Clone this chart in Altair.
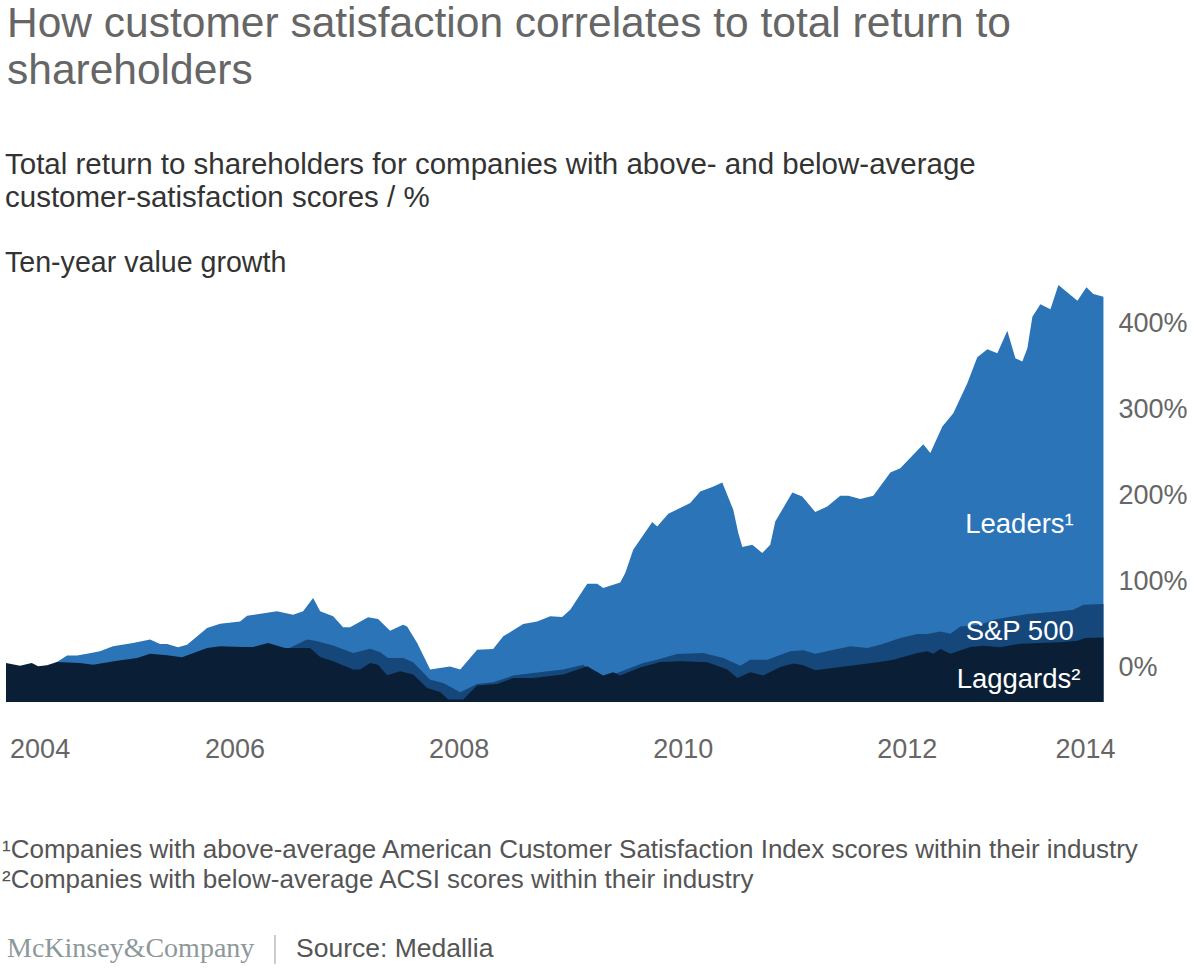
import altair as alt
import pandas as pd

FONT = "Liberation Sans"

# ---- data (year, % total return) ----
lead_year = [2003.96, 2004.2, 2004.33, 2004.415, 2004.505, 2004.594, 2004.683, 2004.799, 2004.915, 2005.094,
             2005.246, 2005.335, 2005.398, 2005.496, 2005.576, 2005.755, 2005.871, 2006.049, 2006.112, 2006.379,
             2006.522, 2006.612, 2006.701, 2006.764, 2006.88, 2006.969, 2007.031, 2007.192, 2007.281, 2007.388,
             2007.504, 2007.54, 2007.63, 2007.746, 2007.862, 2007.924, 2008.014, 2008.165, 2008.308, 2008.398,
             2008.576, 2008.701, 2008.817, 2008.924, 2008.996, 2009.148, 2009.237, 2009.29, 2009.442, 2009.487,
             2009.558, 2009.728, 2009.772, 2009.871, 2010.067, 2010.156, 2010.264, 2010.353, 2010.451, 2010.496,
             2010.532, 2010.621, 2010.71, 2010.781, 2010.826, 2010.978, 2011.067, 2011.183, 2011.29, 2011.406,
             2011.478, 2011.585, 2011.701, 2011.853, 2011.942, 2012.147, 2012.21, 2012.317, 2012.415, 2012.54,
             2012.629, 2012.719, 2012.808, 2012.897, 2012.969, 2013.031, 2013.076, 2013.121, 2013.192, 2013.282,
             2013.353, 2013.523, 2013.603, 2013.665, 2013.755]
lead_val = [1, 1, 0, 6.6, 14.0, 14.0, 16.3, 19.0, 24.8, 28.7,
            32.6, 27.6, 27.6, 23.6, 26.7, 46.2, 51.2, 53.8, 60.5, 65.5,
            61.6, 65.5, 81.0, 65.5, 59.7, 46.9, 46.9, 58.5, 56.6, 43.0,
            50.0, 48.0, 28.7, -2.3, 0.3, 1.2, -2.3, 20.9, 21.7, 36.4,
            50.8, 53.8, 59.7, 59.0, 67.4, 97.7, 97.7, 92.7, 99.2, 110.1,
            137.2, 169.4, 164.3, 179.1, 191.5, 205.0, 210.1, 215.5, 183.7, 156.6,
            140.3, 143.0, 133.4, 143.0, 170.1, 203.8, 199.2, 181.0, 187.6, 200.0,
            200.0, 196.2, 200.0, 227.1, 232.2, 260.1, 249.7, 280.6, 296.2, 331.0,
            361.3, 370.6, 365.9, 392.2, 360.1, 356.2, 371.7, 408.5, 422.9, 417.1,
            445.3, 427.1, 442.7, 434.9, 431.7]

sp_year = [2003.96, 2004.25, 2004.74, 2005.13, 2005.53, 2005.87, 2006.3, 2006.45, 2006.495, 2006.647,
           2006.719, 2006.88, 2007.058, 2007.21, 2007.30, 2007.37, 2007.505, 2007.594, 2007.746, 2007.862,
           2008.014, 2008.165, 2008.308, 2008.487, 2008.665, 2008.933, 2009.112, 2009.25, 2009.415, 2009.647,
           2009.772, 2009.95, 2010.183, 2010.362, 2010.514, 2010.603, 2010.755, 2010.96, 2011.076, 2011.183,
           2011.496, 2011.648, 2011.764, 2011.942, 2012.094, 2012.183, 2012.3, 2012.389, 2012.478, 2012.657,
           2012.773, 2013.076, 2013.371, 2013.487, 2013.576, 2013.755]
sp_val = [0, -2, 0, 6, 8, 18, 22, 20, 23, 32.6,
          31.4, 25.9, 17.1, 22.1, 17.8, 11.3, 11.3, 6.2, -14.0, -17.8,
          -28.7, -19.0, -17.1, -9.3, -6.2, -2.3, 3.5, -12, -6.2, 5.5,
          9.3, 15.9, 17.1, 11.3, 2.3, 9.3, 9.3, 19.0, 20.1, 16.3,
          24.8, 22.9, 26.7, 34.5, 39.2, 39.0, 42.2, 39.5, 48.0, 50.0,
          55.8, 62.4, 65.5, 67.4, 73.3, 74.1]

lag_year = [2003.96, 2004.085, 2004.19, 2004.246, 2004.326, 2004.415, 2004.62, 2004.737, 2004.951, 2005.13,
            2005.246, 2005.398, 2005.531, 2005.755, 2005.871, 2006.076, 2006.165, 2006.299, 2006.451, 2006.674,
            2006.764, 2006.88, 2007.058, 2007.12, 2007.21, 2007.28, 2007.362, 2007.478, 2007.594, 2007.719,
            2007.835, 2007.906, 2008.04, 2008.165, 2008.344, 2008.487, 2008.665, 2008.933, 2009.148, 2009.29,
            2009.38, 2009.442, 2009.62, 2009.799, 2009.978, 2010.219, 2010.397, 2010.487, 2010.603, 2010.719,
            2010.871, 2010.987, 2011.076, 2011.183, 2011.496, 2011.737, 2011.88, 2012.094, 2012.183, 2012.237,
            2012.3, 2012.389, 2012.567, 2012.683, 2012.835, 2013.014, 2013.371, 2013.523, 2013.594, 2013.755]
lag_val = [5.5, 2.3, 5.5, 1.5, 2.7, 6.6, 5.5, 3.5, 8.1, 11.3,
           16.3, 14.3, 12.0, 22.9, 24.8, 24.1, 24.1, 28.7, 22.9, 22.9,
           12.4, 7.3, -2.3, -2.3, 5.5, 3.5, -9.0, -4.3, -8.1, -23.6,
           -28.3, -37.2, -37.2, -20.9, -19.0, -12.0, -12.0, -8.1, 1.5, -9.3,
           -5.5, -9.3, 0.3, 6.6, 7.3, 6.2, -2.3, -12.0, -5.5, -9.3,
           0.8, 4.7, 2.7, -3.1, 2.3, 6.2, 9.3, 17.1, 19.0, 16.3,
           21.7, 16.3, 24.1, 25.6, 23.6, 27.9, 29.4, 31.4, 34.5, 35.2]

series_names = ["Leaders", "S&P 500", "Laggards"]
series_colors = ["#2c74b8", "#15477a", "#0a1f36"]

label_text = ["Leaders\u00b9", "S&P 500", "Laggards\u00b2"]
label_year = [2013.49, 2013.49, 2013.55]
label_val = [157, 32.6, -23.3]

x_tick_pos = [2004.26, 2006, 2008, 2010, 2012, 2013.59]
y_ticks = [0, 100, 200, 300, 400]

# ---- frames ----
df = pd.concat([
    pd.DataFrame({"year": lead_year, "value": lead_val, "series": series_names[0]}),
    pd.DataFrame({"year": sp_year, "value": sp_val, "series": series_names[1]}),
    pd.DataFrame({"year": lag_year, "value": lag_val, "series": series_names[2]}),
])
labels_df = pd.DataFrame({"t": label_text, "year": label_year, "value": label_val})

W, H = 1098, 421
x_scale = alt.Scale(domain=[2003.96, 2013.76], nice=False, zero=False)
y_scale = alt.Scale(domain=[-40, 450], nice=False, zero=False)

x_enc = alt.X("year:Q", scale=x_scale, title=None,
              axis=alt.Axis(values=x_tick_pos, labelExpr="format(round(datum.value), 'd')",
                            domain=False, ticks=False, grid=False, labelFlush=False,
                            labelFont=FONT, labelFontSize=27, labelColor="#666666",
                            labelPadding=34, labelBaseline="top"))
y_enc = alt.Y("value:Q", scale=y_scale, title=None,
              axis=alt.Axis(orient="right", values=y_ticks, labelExpr="datum.value + '%'",
                            domain=False, ticks=False, grid=False,
                            labelFont=FONT, labelFontSize=27, labelColor="#666666",
                            labelPadding=14, labelBaseline="middle", labelAlign="left"))

base = alt.Chart(df).mark_area(interpolate="linear").encode(
    x=x_enc, y=y_enc, y2=alt.datum(-40),
    color=alt.Color("series:N", scale=alt.Scale(domain=series_names, range=series_colors), legend=None),
)
areas = [base.transform_filter(alt.datum.series == s) for s in series_names]

series_labels = alt.Chart(labels_df).mark_text(
    align="right", baseline="alphabetic", font=FONT, fontSize=27.5, color="white"
).encode(x=alt.X("year:Q", scale=x_scale), y=alt.Y("value:Q", scale=y_scale), text="t:N")

TOP = 281
LEFT = 6


def note(text, x, y, size, color, font=FONT):
    return alt.Chart(alt.Data(values=[{}])).mark_text(
        text=text, align="left", baseline="alphabetic", fontSize=size, color=color, font=font
    ).encode(x=alt.value(x - LEFT), y=alt.value(y - TOP))


texts = [
    note("How customer satisfaction correlates to total return to", 7, 37, 42.5, "#666666"),
    note("shareholders", 7, 84, 42.5, "#666666"),
    note("Total return to shareholders for companies with above- and below-average", 5, 174, 29.5, "#333333"),
    note("customer-satisfaction scores / %", 5, 207, 29.5, "#333333"),
    note("Ten-year value growth", 5, 272, 28.6, "#333333"),
    note("\u00b9Companies with above-average American Customer Satisfaction Index scores within their industry", 2, 858, 26, "#555555"),
    note("\u00b2Companies with below-average ACSI scores within their industry", 2, 888, 26, "#555555"),
    note("McKinsey&Company", 7, 957, 28, "#8c9899", font="Liberation Serif"),
    note("Source: Medallia", 296, 957, 26.5, "#555555"),
]
sep = alt.Chart(alt.Data(values=[{}])).mark_rule(color="#9a9a9a", strokeWidth=1).encode(
    x=alt.value(275 - LEFT), y=alt.value(935 - TOP), y2=alt.value(964 - TOP))

chart = alt.layer(*areas, series_labels, *texts, sep).properties(
    width=W, height=H,
    background="white",
    padding={"left": LEFT, "top": TOP, "right": 1200 - LEFT - W, "bottom": 974 - TOP - H},
    autosize=alt.AutoSizeParams(type="none"),
).configure_view(strokeWidth=0, stroke="transparent")

chart.save("out.html", embed_options={"renderer": "svg", "actions": False})
